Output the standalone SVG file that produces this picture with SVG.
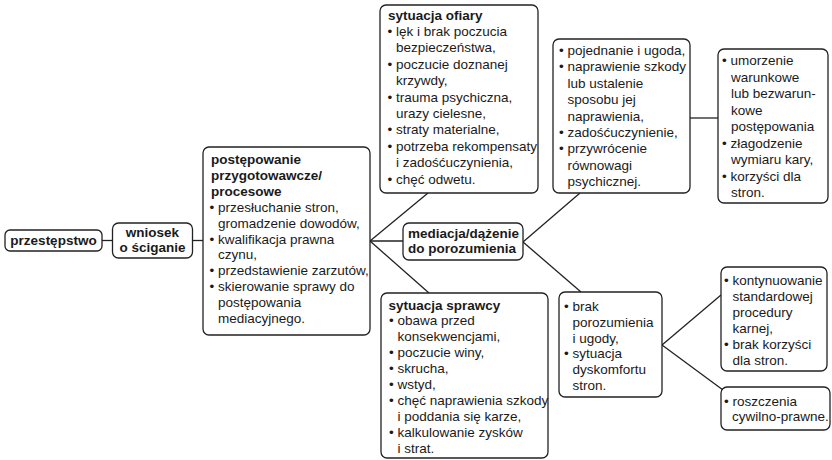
<svg xmlns="http://www.w3.org/2000/svg" width="832" height="460" viewBox="0 0 832 460">
<style>
.box{fill:#fff;stroke:#222;stroke-width:1.3}
.t{font-family:"Liberation Sans",Arial,Helvetica,sans-serif;font-size:13.5px;fill:#1a1a1a}
.b{font-weight:bold}
.c{text-anchor:middle}
#connectors line{stroke:#222;stroke-width:1.3;fill:none}
</style>
<rect width="832" height="460" fill="#fff"/>
<g id="connectors">
<line x1="102" y1="240.5" x2="112.5" y2="240.5"/>
<line x1="192.5" y1="240.5" x2="203" y2="240.5"/>
<line x1="370" y1="241" x2="428" y2="193"/>
<line x1="370" y1="241" x2="403" y2="241"/>
<line x1="370" y1="241" x2="429" y2="293"/>
<line x1="523" y1="242" x2="580" y2="193"/>
<line x1="523" y1="242" x2="581" y2="292"/>
<line x1="690" y1="118" x2="718" y2="118"/>
<line x1="662" y1="345" x2="721" y2="295"/>
<line x1="662" y1="345" x2="723" y2="390"/>
</g>
<g id="n-przestepstwo">
<rect class="box" x="5" y="230" width="97" height="21" rx="5"/>
<text class="t b c" x="53.5" y="245">przestępstwo</text>
</g>
<g id="n-wniosek">
<rect class="box" x="112.5" y="223" width="80" height="35" rx="6"/>
<text class="t b c" x="152.5" y="237">wniosek</text>
<text class="t b c" x="152.5" y="252">o ściganie</text>
</g>
<g id="n-postepowanie">
<rect class="box" x="203" y="147" width="167" height="188" rx="6"/>
<text class="t b" x="211" y="164">postępowanie</text>
<text class="t b" x="211" y="179.9">przygotowawcze/</text>
<text class="t b" x="211" y="195.8">procesowe</text>
<text class="t" x="209.5" y="211.7">• przesłuchanie stron,</text>
<text class="t" x="218" y="227.6">gromadzenie dowodów,</text>
<text class="t" x="209.5" y="243.5">• kwalifikacja prawna</text>
<text class="t" x="218" y="259.4">czynu,</text>
<text class="t" x="209.5" y="275.3">• przedstawienie zarzutów,</text>
<text class="t" x="209.5" y="291.2">• skierowanie sprawy do</text>
<text class="t" x="218" y="307.1">postępowania</text>
<text class="t" x="218" y="323">mediacyjnego.</text>
</g>
<g id="n-ofiary">
<rect class="box" x="380" y="5" width="158" height="188" rx="6"/>
<text class="t b" x="388" y="19.5">sytuacja ofiary</text>
<text class="t" x="387.5" y="35.9">• lęk i brak poczucia</text>
<text class="t" x="396" y="52.3">bezpieczeństwa,</text>
<text class="t" x="387.5" y="68.7">• poczucie doznanej</text>
<text class="t" x="396" y="85.1">krzywdy,</text>
<text class="t" x="387.5" y="101.5">• trauma psychiczna,</text>
<text class="t" x="396" y="117.9">urazy cielesne,</text>
<text class="t" x="387.5" y="134.3">• straty materialne,</text>
<text class="t" x="387.5" y="150.7">• potrzeba rekompensaty</text>
<text class="t" x="396" y="167.1">i zadośćuczynienia,</text>
<text class="t" x="387.5" y="183.5">• chęć odwetu.</text>
</g>
<g id="n-mediacja">
<rect class="box" x="403" y="223" width="120" height="37" rx="6"/>
<text class="t b" x="408" y="237.5">mediacja/dążenie</text>
<text class="t b" x="408" y="253">do porozumienia</text>
</g>
<g id="n-sprawcy">
<rect class="box" x="381" y="293" width="167" height="165" rx="6"/>
<text class="t b" x="388.5" y="309.5">sytuacja sprawcy</text>
<text class="t" x="389" y="325.4">• obawa przed</text>
<text class="t" x="397.5" y="341.3">konsekwencjami,</text>
<text class="t" x="389" y="357.2">• poczucie winy,</text>
<text class="t" x="389" y="373.1">• skrucha,</text>
<text class="t" x="389" y="389">• wstyd,</text>
<text class="t" x="389" y="404.9">• chęć naprawienia szkody</text>
<text class="t" x="397.5" y="420.8">i poddania się karze,</text>
<text class="t" x="389" y="436.7">• kalkulowanie zysków</text>
<text class="t" x="397.5" y="452.6">i strat.</text>
</g>
<g id="n-pojednanie">
<rect class="box" x="553" y="39" width="137" height="154" rx="6"/>
<text class="t" x="559" y="55">• pojednanie i ugoda,</text>
<text class="t" x="559" y="71.4">• naprawienie szkody</text>
<text class="t" x="567.5" y="87.8">lub ustalenie</text>
<text class="t" x="567.5" y="104.2">sposobu jej</text>
<text class="t" x="567.5" y="120.6">naprawienia,</text>
<text class="t" x="559" y="137">• zadośćuczynienie,</text>
<text class="t" x="559" y="153.4">• przywrócenie</text>
<text class="t" x="567.5" y="169.8">równowagi</text>
<text class="t" x="567.5" y="186.2">psychicznej.</text>
</g>
<g id="n-umorzenie">
<rect class="box" x="718" y="49" width="110" height="154" rx="6"/>
<text class="t" x="722" y="65">• umorzenie</text>
<text class="t" x="731" y="81.5">warunkowe</text>
<text class="t" x="731" y="98">lub bezwarun-</text>
<text class="t" x="731" y="114.5">kowe</text>
<text class="t" x="731" y="131">postępowania</text>
<text class="t" x="722" y="147.5">• złagodzenie</text>
<text class="t" x="731" y="164">wymiaru kary,</text>
<text class="t" x="722" y="180.5">• korzyści dla</text>
<text class="t" x="731" y="197">stron.</text>
</g>
<g id="n-brak">
<rect class="box" x="559" y="292" width="103" height="105" rx="6"/>
<text class="t" x="564" y="311">• brak</text>
<text class="t" x="572.5" y="326.8">porozumienia</text>
<text class="t" x="572.5" y="342.6">i ugody,</text>
<text class="t" x="564" y="358.4">• sytuacja</text>
<text class="t" x="572.5" y="374.2">dyskomfortu</text>
<text class="t" x="572.5" y="390">stron.</text>
</g>
<g id="n-kontynuowanie">
<rect class="box" x="721" y="267" width="106" height="104" rx="6"/>
<text class="t" x="724" y="285">• kontynuowanie</text>
<text class="t" x="732.5" y="301">standardowej</text>
<text class="t" x="732.5" y="317">procedury</text>
<text class="t" x="732.5" y="333">karnej,</text>
<text class="t" x="724" y="349">• brak korzyści</text>
<text class="t" x="732.5" y="365">dla stron.</text>
</g>
<g id="n-roszczenia">
<rect class="box" x="721" y="387" width="109" height="43" rx="6"/>
<text class="t" x="724" y="405.5">• roszczenia</text>
<text class="t" x="732" y="421">cywilno-prawne.</text>
</g>
</svg>
